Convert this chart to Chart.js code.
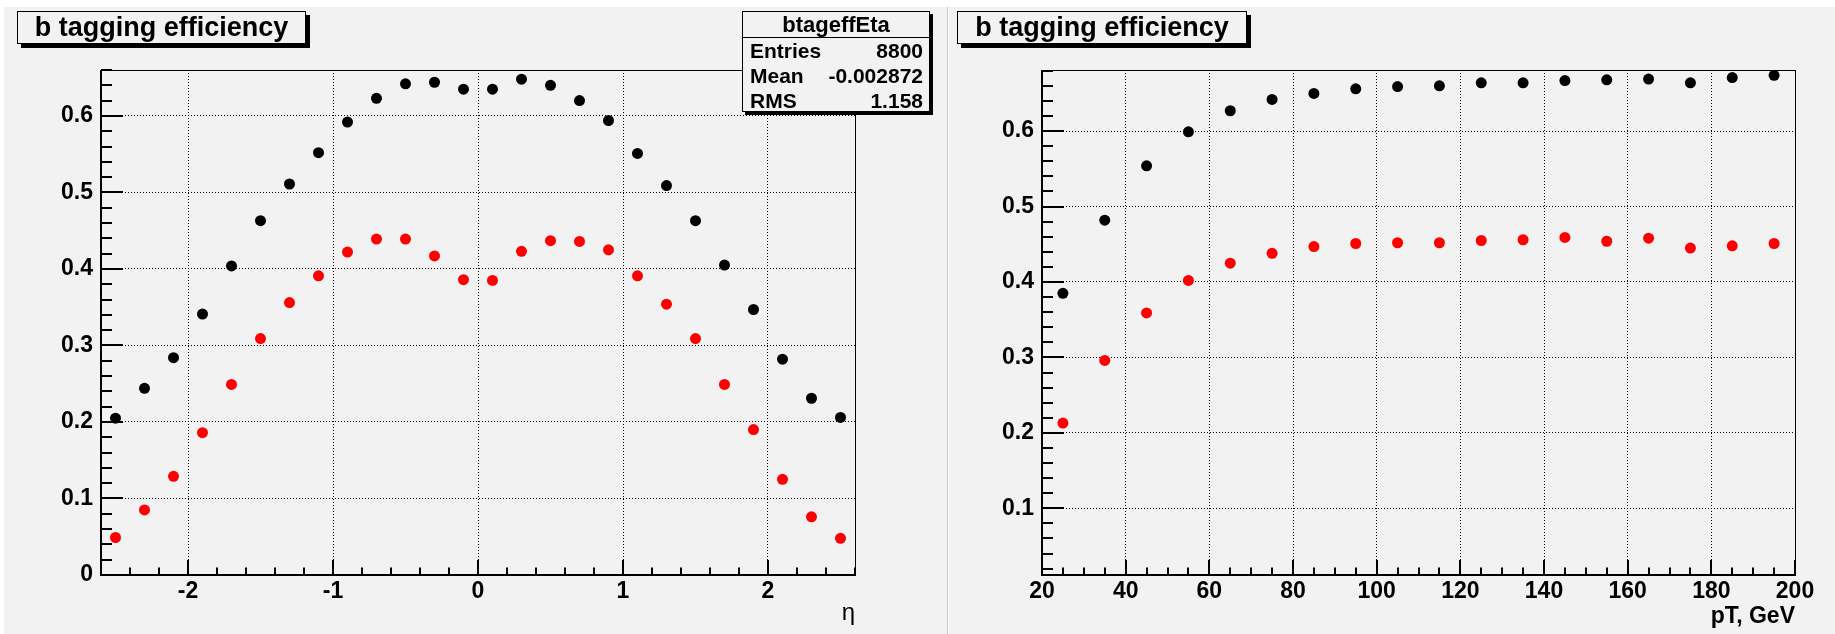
<!DOCTYPE html>
<html>
<head>
<meta charset="utf-8">
<script src="https://cdn.jsdelivr.net/npm/chart.js@4.4.1/dist/chart.umd.min.js"></script>
<style>
  body { margin: 0; width: 1835px; height: 634px; background: #fff; position: relative; overflow: hidden;
         font-family: "Liberation Sans", Arial, sans-serif; }
  .pad { position: absolute; top: 7px; height: 627px; background: #f2f2f2; }
  #padL { left: 4px; width: 943px; border-right: 1px solid #c8c8c8; }
  #padR { left: 949px; width: 886px; }
  .pad canvas { position: absolute; left: 0; top: 0; }
  .title { position: absolute; top: 11px; height: 33px; box-sizing: border-box; border: 1px solid #000;
           background: #f2f2f2; box-shadow: 4px 4px 0 #000; font-weight: bold; font-size: 27px;
           line-height: 30px; text-align: center; }
  .stats { position: absolute; left: 742px; top: 11px; width: 188px; height: 101px; box-sizing: border-box;
           border: 1px solid #000; background: #f2f2f2; box-shadow: 3px 3px 0 #000; font-weight: bold; }
  .stats .head { height: 25px; line-height: 25px; text-align: center; font-size: 22px; border-bottom: 1px solid #000; }
  .stats .row { height: 25px; line-height: 25px; font-size: 21px; padding: 0 6px 0 7px; display: flex; justify-content: space-between; }
</style>
</head>
<body>
<div class="pad" id="padL"><canvas id="etaChart" width="943" height="627"></canvas></div>
<div class="pad" id="padR"><canvas id="ptChart" width="886" height="627"></canvas></div>
<div class="title" style="left:17px;width:289px;">b tagging efficiency</div>
<div class="title" style="left:957px;width:290px;">b tagging efficiency</div>
<div class="stats" id="stats"></div>
<script>
"use strict"

// efficiency vs eta (bin centres)
const etaBins = [-2.5, -2.3, -2.1, -1.9, -1.7, -1.5, -1.3, -1.1, -0.9, -0.7, -0.5, -0.3, -0.1,
                 0.1, 0.3, 0.5, 0.7, 0.9, 1.1, 1.3, 1.5, 1.7, 1.9, 2.1, 2.3, 2.5];
const effEtaBlack = [0.205, 0.244, 0.284, 0.341, 0.404, 0.463, 0.511, 0.552, 0.592, 0.623, 0.642, 0.644, 0.635,
                     0.635, 0.648, 0.640, 0.620, 0.594, 0.551, 0.509, 0.463, 0.405, 0.347, 0.282, 0.231, 0.206];
const effEtaRed = [0.049, 0.085, 0.129, 0.186, 0.249, 0.309, 0.356, 0.391, 0.422, 0.439, 0.439, 0.417, 0.386,
                   0.385, 0.423, 0.437, 0.436, 0.425, 0.391, 0.354, 0.309, 0.249, 0.190, 0.125, 0.076, 0.048];

// efficiency vs pT
const ptBins = [25, 35, 45, 55, 65, 75, 85, 95, 105, 115, 125, 135, 145, 155, 165, 175, 185, 195];
const effPtBlack = [0.385, 0.482, 0.554, 0.599, 0.627, 0.642, 0.650, 0.656, 0.659, 0.660, 0.664, 0.664,
                    0.667, 0.668, 0.669, 0.664, 0.671, 0.674];
const effPtRed = [0.213, 0.296, 0.359, 0.402, 0.425, 0.438, 0.447, 0.451, 0.452, 0.452, 0.455, 0.456,
                  0.459, 0.454, 0.458, 0.445, 0.448, 0.451];

// tick labels
const etaTicks = [-2, -1, 0, 1, 2];
const effEtaTicks = [0, 0.1, 0.2, 0.3, 0.4, 0.5, 0.6];
const ptTicks = [20, 40, 60, 80, 100, 120, 140, 160, 180, 200];
const effPtTicks = [0.1, 0.2, 0.3, 0.4, 0.5, 0.6];

// stats box
const statsTitle = "btageffEta";
const statsLabels = ["Entries", "Mean", "RMS"];
const statsValues = ["8800", "-0.002872", "1.158"];

const box = document.getElementById('stats');
box.innerHTML = '<div class="head">' + statsTitle + '</div>' +
    statsLabels.map((l, i) => '<div class="row"><span>' + l + '</span><span>' + statsValues[i] + '</span></div>').join('');

const tickFont = { family: "Liberation Sans", size: 23, weight: "bold" };

// ROOT-like frame with inward major/minor tick marks
function rootFrame(steps) {
    return {
        id: 'rootFrame',
        afterDatasetsDraw(chart) {
            const { ctx, chartArea: a, scales: { x, y } } = chart;
            const isMajor = (v, step) => Math.abs(v / step - Math.round(v / step)) < 1e-6;
            ctx.save();
            ctx.strokeStyle = '#000';
            ctx.lineWidth = 2;
            ctx.beginPath();
            const i0 = Math.ceil(x.min / steps.xMinor - 1e-6), i1 = Math.floor(x.max / steps.xMinor + 1e-6);
            for (let i = i0; i <= i1; i++) {
                const v = i * steps.xMinor;
                const len = isMajor(v, steps.xMajor) ? 15 : 7.5;
                const px = Math.round(x.getPixelForValue(v));
                ctx.moveTo(px, a.bottom);
                ctx.lineTo(px, a.bottom - len);
            }
            const j0 = Math.ceil(y.min / steps.yMinor - 1e-6), j1 = Math.floor(y.max / steps.yMinor + 1e-6);
            for (let j = j0; j <= j1; j++) {
                const v = j * steps.yMinor;
                const len = isMajor(v, steps.yMajor) ? 22 : 11;
                const py = Math.round(y.getPixelForValue(v));
                ctx.moveTo(a.left, py);
                ctx.lineTo(a.left + len, py);
            }
            ctx.stroke();
            ctx.lineWidth = 1;
            ctx.strokeRect(Math.round(a.left) + 0.5, Math.round(a.top) + 0.5,
                           Math.round(a.right - a.left), Math.round(a.bottom - a.top));
            ctx.lineWidth = 2;
            ctx.beginPath();
            ctx.moveTo(Math.round(a.left), Math.round(a.top));
            ctx.lineTo(Math.round(a.left), Math.round(a.bottom));
            ctx.lineTo(Math.round(a.right), Math.round(a.bottom));
            ctx.stroke();
            ctx.restore();
        }
    };
}

function createChart(id, xs, blackVals, redVals, xr, yr, xTicks, yTicks, xTitle, layout, steps) {
    new Chart(document.getElementById(id), {
        type: 'scatter',
        data: {
            datasets: [
                { label: 'efficiency', data: xs.map((v, i) => ({ x: v, y: blackVals[i] })),
                  pointBackgroundColor: '#000', pointBorderWidth: 0, pointRadius: 5.5 },
                { label: 'efficiency (red)', data: xs.map((v, i) => ({ x: v, y: redVals[i] })),
                  pointBackgroundColor: '#ff0000', pointBorderWidth: 0, pointRadius: 5.5 }
            ]
        },
        options: {
            responsive: false,
            animation: false,
            layout: { padding: { top: layout.top, right: layout.right, left: 0, bottom: 0 } },
            plugins: { legend: { display: false }, tooltip: { enabled: false } },
            scales: {
                x: {
                    type: 'linear', min: xr[0], max: xr[1],
                    afterBuildTicks: s => { s.ticks = xTicks.map(v => ({ value: v })) },
                    afterFit: s => { s.height = layout.xh },
                    grid: { color: '#000', lineWidth: 1, drawTicks: false },
                    border: { display: false, dash: [1, 2] },
                    ticks: { color: '#000', font: tickFont, padding: 3, maxRotation: 0, autoSkip: false },
                    title: { display: true, text: xTitle.text, align: 'end', color: '#000',
                             font: xTitle.font, padding: { top: 0, bottom: xTitle.pad } }
                },
                y: {
                    type: 'linear', min: yr[0], max: yr[1],
                    afterBuildTicks: s => { s.ticks = yTicks.map(v => ({ value: v })) },
                    afterFit: s => { s.width = layout.yw },
                    grid: { color: '#000', lineWidth: 1, drawTicks: false },
                    border: { display: false, dash: [1, 2] },
                    ticks: { color: '#000', font: tickFont, padding: 8, autoSkip: false }
                }
            }
        },
        plugins: [rootFrame(steps)]
    })
}

createChart('etaChart', etaBins, effEtaBlack, effEtaRed, [-2.6, 2.6], [0, 0.66], etaTicks, effEtaTicks,
    { text: 'η', font: { family: "Liberation Sans", size: 24 }, pad: 6 },
    { top: 63, right: 92, yw: 97, xh: 59 },
    { xMinor: 0.2, xMajor: 1, yMinor: 0.02, yMajor: 0.1 });

createChart('ptChart', ptBins, effPtBlack, effPtRed, [20, 200], [0.0116, 0.681], ptTicks, effPtTicks,
    { text: 'pT, GeV', font: { family: "Liberation Sans", size: 23, weight: 'bold' }, pad: 4 },
    { top: 63, right: 40, yw: 93, xh: 59 },
    { xMinor: 5, xMajor: 20, yMinor: 0.02, yMajor: 0.1 });
</script>
</body>
</html>
